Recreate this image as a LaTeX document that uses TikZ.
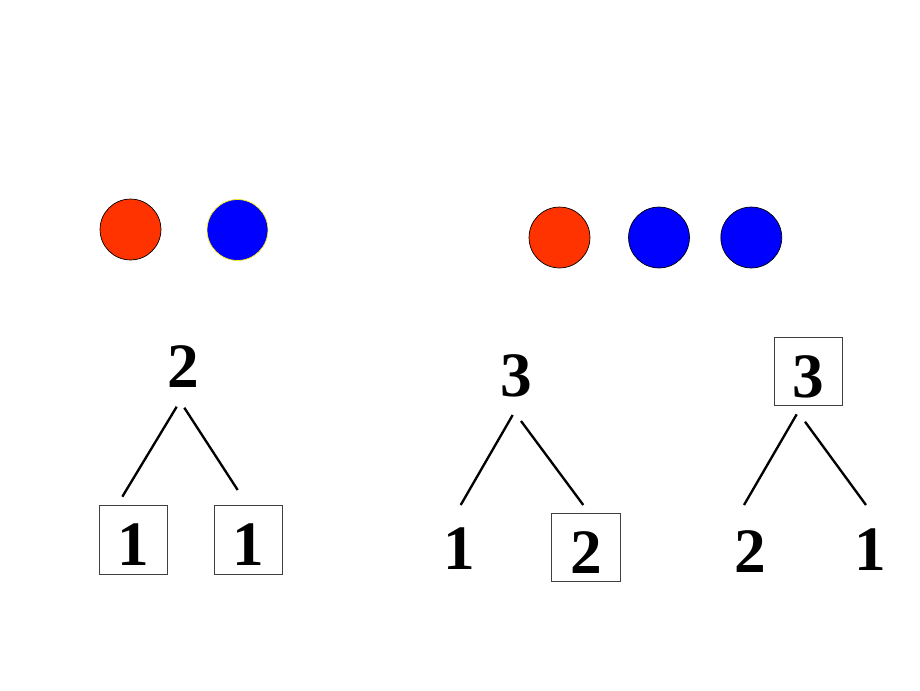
\documentclass[tikz,border=0pt]{standalone}
\usepackage{fontspec}
\setmainfont{Liberation Serif}
\usepackage{xcolor}
\usetikzlibrary{positioning}
\definecolor{ballred}{RGB}{255,51,0}
\tikzset{num/.style={font=\fontsize{54}{60}\selectfont\bfseries,inner sep=0pt},
    boxed/.style={num,draw=black!75,line width=0.6pt,minimum size=58.5pt,text height=44pt,text depth=0pt},
    ball/.style={circle,draw=black,line width=0.6pt,minimum size=52pt,inner sep=0pt},
    redball/.style={ball,fill=ballred},
    blueball/.style={ball,fill=blue},
    branch/.style={line width=2pt}}

\begin{document}
\begin{tikzpicture}[x=0.03cm,y=-0.03cm]
\useasboundingbox (0,0) rectangle (920,690);
% balls
\node[redball] (ra) at (130.5,229.5) {};
\node[blueball,draw=yellow] (ba) at (237.5,230) {};
\node[redball] (rb) at (559.5,237.5) {};
\node[blueball] (bb) at (659,237.5) {};
\node[blueball] (bc) at (751.3,237.5) {};

% tree for 2
\node[num] (twoA) at (183.5,366.5) {2};
\node[boxed] (oneA) at (133.5,540) {1};
\node[boxed] (oneB) at (248.5,540) {1};
\coordinate (twoAl) at (176.7,406.7);
\coordinate (twoAr) at (184.3,407.7);
\coordinate (oneAt) at (122.3,496.7);
\coordinate (oneBt) at (237.7,490);
\draw[branch] (twoAl) -- (oneAt);
\draw[branch] (twoAr) -- (oneBt);

% tree for 3, left
\node[num] (threeA) at (516,376) {3};
\node[num] (oneC) at (459.5,549) {1};
\node[boxed] (twoB) at (586,547.5) {2};
\coordinate (threeAl) at (512.7,415);
\coordinate (threeAr) at (521,421);
\coordinate (oneCt) at (460.7,505);
\coordinate (twoBt) at (583.3,505);
\draw[branch] (threeAl) -- (oneCt);
\draw[branch] (threeAr) -- (twoBt);

% tree for 3, right
\node[boxed] (threeB) at (808.5,371.5) {3};
\node[num] (twoC) at (750,551.5) {2};
\node[num] (oneD) at (870,550) {1};
\coordinate (threeBl) at (796.7,414.3);
\coordinate (threeBr) at (805,421.7);
\coordinate (twoCt) at (744,505);
\coordinate (oneDt) at (866,505);
\draw[branch] (threeBl) -- (twoCt);
\draw[branch] (threeBr) -- (oneDt);
\end{tikzpicture}
\end{document}
